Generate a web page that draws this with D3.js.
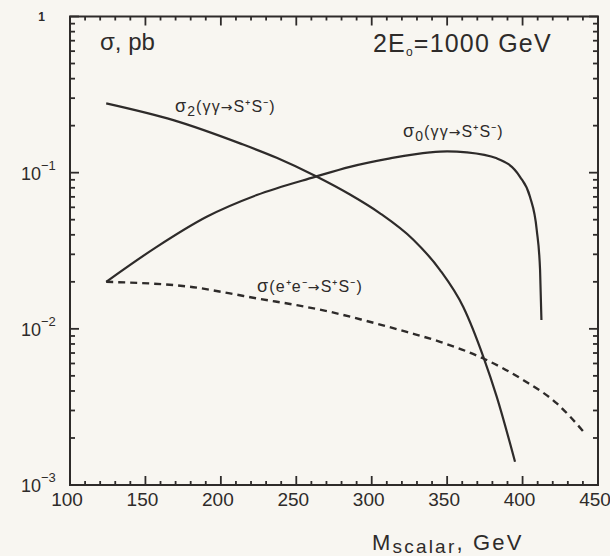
<!DOCTYPE html>
<html><head><meta charset="utf-8">
<script src="https://cdn.jsdelivr.net/npm/d3@7"></script>
<style>
html,body{margin:0;padding:0;background:#f8f6f1;}
svg{display:block;font-family:"Liberation Sans",Arial,sans-serif;}
</style></head>
<body>
<svg id="chart" width="610" height="556"></svg>
<script>
// ---- data ----
const xTicks = [100,150,200,250,300,350,400,450];
const yTickExps = [0,-1,-2,-3];

const mass2  = [124,168.5,212.7,237,262.4,285.6,305.5,327.6,345.3,360.7,374,382.9,395];
const sigma2 = [0.278,0.217,0.154,0.1245,0.0955,0.0724,0.0549,0.0372,0.0238,0.0138,0.00662,0.00367,0.00141];

const mass0  = [124,157.5,190.6,223.8,262.4,285.6,312.2,338.6,350,363,382.9,398.3,404.9,409.4,411.6,412.5];
const sigma0 = [0.0200,0.0335,0.0522,0.0719,0.094,0.109,0.1235,0.135,0.137,0.135,0.1235,0.094,0.0701,0.0429,0.0238,0.0114];

const massE  = [124,179.5,206,223.8,250.3,272.4,294.5,323.2,345.3,374,400.6,422.7,441.4];
const sigmaE = [0.0200,0.0186,0.01686,0.01566,0.01418,0.01285,0.01137,0.00955,0.00826,0.00646,0.00469,0.00333,0.00214];

// ---- layout ----
const L=70, R=598, T=16.5, B=485;
const ink="#2e2b2a";
const svg=d3.select("#chart");
svg.append("rect").attr("width",610).attr("height",556).attr("fill","#f8f6f1");

const x=d3.scaleLinear().domain([100,450]).range([L,R]);
const y=d3.scaleLog().domain([1e-3,1]).range([B,T]);

const minorX=d3.range(110,450,10).filter(v=>v%50!==0);
const minorY=[];
[-3,-2,-1].forEach(e=>{for(let k=2;k<=9;k++)minorY.push(k*Math.pow(10,e));});
const majorY=yTickExps.map(e=>Math.pow(10,e));

// frame
svg.append("rect").attr("x",L).attr("y",T).attr("width",R-L).attr("height",B-T)
  .attr("fill","none").attr("stroke",ink).attr("stroke-width",2);

// ticks (inward, all four sides)
const tickData=[];
xTicks.forEach(v=>{tickData.push([x(v),B,x(v),B-9]);tickData.push([x(v),T,x(v),T+9]);});
minorX.forEach(v=>{tickData.push([x(v),B,x(v),B-4]);tickData.push([x(v),T,x(v),T+4]);});
majorY.forEach(v=>{tickData.push([L,y(v),L+9,y(v)]);tickData.push([R,y(v),R-9,y(v)]);});
minorY.forEach(v=>{tickData.push([L,y(v),L+5,y(v)]);tickData.push([R,y(v),R-5,y(v)]);});
svg.append("g").selectAll("line").data(tickData).join("line")
  .attr("x1",d=>d[0]).attr("y1",d=>d[1]).attr("x2",d=>d[2]).attr("y2",d=>d[3])
  .style("stroke",ink).style("stroke-width","1.8px");

// x tick labels
svg.append("g").selectAll("text").data(xTicks).join("text")
  .attr("x",d=>x(d)-3).attr("y",506).attr("text-anchor","middle")
  .attr("font-size",19).attr("fill",ink).text(d=>d);

// y tick labels
yTickExps.forEach(e=>{
  const v=Math.pow(10,e);
  if(e===0){
    svg.append("text").attr("x",45).attr("y",y(v)+4).attr("text-anchor","end")
      .attr("font-size",12).attr("font-weight","bold").attr("fill",ink).text("1");
  } else {
    const t=svg.append("text").attr("x",21).attr("y",y(v)+7).attr("font-size",18).attr("fill",ink);
    t.append("tspan").text("10");
    t.append("tspan").attr("dy",-10).attr("font-size",13).text("\u2212"+(-e));
  }
});

// axis title
const at=svg.append("text").attr("x",372).attr("y",550).attr("font-size",22).attr("fill",ink).attr("letter-spacing",2.2);
at.append("tspan").text("M");
at.append("tspan").attr("dy",3).attr("font-size",19).text("scalar");
at.append("tspan").attr("dy",-3).text(", GeV");

svg.append("text").attr("x",100).attr("y",50).attr("font-size",24).attr("fill",ink).text("\u03C3, pb");
const et=svg.append("text").attr("x",373).attr("y",52).attr("font-size",25).attr("fill",ink).attr("letter-spacing",1.2);
et.append("tspan").text("2E");
et.append("tspan").attr("dy",4).attr("font-size",12).text("o");
et.append("tspan").attr("dy",-4).text("=1000 GeV");

// curve labels
function procLabel(xp,yp,sub,pre,post){
  const t=svg.append("text").attr("x",xp).attr("y",yp).attr("font-size",16).attr("fill",ink).attr("letter-spacing",1.1);
  t.append("tspan").attr("font-size",18).text("\u03C3");
  if(sub){
    t.append("tspan").attr("dy",4).attr("font-size",14).text(sub);
    t.append("tspan").attr("dy",-4).text(pre);
  } else t.append("tspan").text(pre);
  t.append("tspan").attr("font-family","DejaVu Sans").attr("font-size",14).text("\u2192");
  t.append("tspan").text(post);
}
procLabel(175,112,"2","(\u03B3\u03B3","S\u207AS\u207B)");
procLabel(403,137,"0","(\u03B3\u03B3","S\u207AS\u207B)");
procLabel(257,292,null,"(e\u207Ae\u207B","S\u207AS\u207B)");

// curves
const line=d3.line().x(d=>x(d[0])).y(d=>y(d[1])).curve(d3.curveMonotoneX);
const plot=svg.append("g");
plot.append("path").datum(d3.zip(mass2,sigma2)).attr("d",line)
  .attr("fill","none").attr("stroke",ink).attr("stroke-width",2.2);
plot.append("path").datum(d3.zip(mass0,sigma0)).attr("d",line)
  .attr("fill","none").attr("stroke",ink).attr("stroke-width",2.2);
plot.append("path").datum(d3.zip(massE,sigmaE)).attr("d",line)
  .attr("fill","none").attr("stroke",ink).attr("stroke-width",2.4).attr("stroke-dasharray","7,5");
</script>
</body></html>
